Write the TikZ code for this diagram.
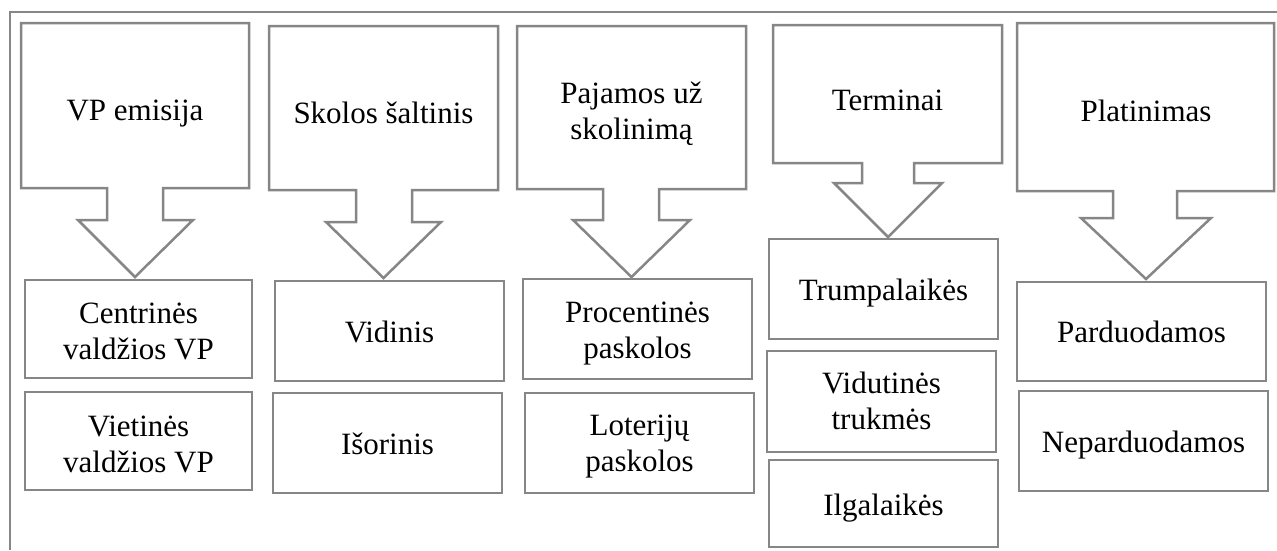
\documentclass[tikz,border=0pt]{standalone}
\usepackage{fontspec}
\setmainfont{Liberation Serif}
\definecolor{lg}{HTML}{868686}
\tikzset{
  x=1pt, y=-1pt,
  ln/.style={draw=lg, line width=2.5pt, line join=miter},
  txt/.style={font=\fontsize{31}{36}\selectfont, align=center, inner sep=0pt},
  box/.style={ln, rectangle, inner sep=0pt, minimum width=#1},
  box/.default={229pt},
}
\begin{document}
\begin{tikzpicture}
\useasboundingbox (0,0) rectangle (1277,550);
% outer frame (only top and left edges visible)
\draw[draw=lg, line width=2.5pt] (1277,12) -- (10,12) -- (10,550);

% callouts
\draw[ln] (21,23) -- (249,23) -- (249,188) -- (163,188) -- (163,220) -- (193,220) -- (135,277) -- (78,220) -- (107,220) -- (107,188) -- (21,188) -- cycle;
\draw[ln] (269,26) -- (498,26) -- (498,190) -- (412,190) -- (412,222) -- (441,222) -- (383.5,278) -- (326,222) -- (356,222) -- (356,190) -- (269,190) -- cycle;
\draw[ln] (517,26) -- (746,26) -- (746,189) -- (659,189) -- (659,220) -- (690,220) -- (631.5,277) -- (573,220) -- (603,220) -- (603,189) -- (517,189) -- cycle;
\draw[ln] (773,25) -- (1002,25) -- (1002,163) -- (914,163) -- (914,183) -- (942,183) -- (888,237) -- (834,183) -- (862,183) -- (862,163) -- (773,163) -- cycle;
\draw[ln] (1017,23) -- (1274,23) -- (1274,191) -- (1177,191) -- (1177,218) -- (1211,218) -- (1146,279) -- (1081,218) -- (1113,218) -- (1113,191) -- (1017,191) -- cycle;

\node[txt] (h1) at (135,112.8) {\strut VP emisija};
\node[txt] (h2) at (383.5,116.3) {\strut Skolos šaltinis};
\node[txt] (h3) at (631.5,113.8) {\strut Pajamos už\\\strut skolinimą};
\node[txt] (h4) at (887.5,102.8) {\strut Terminai};
\node[txt] (h5) at (1146,114.5) {\strut Platinimas};

% child boxes
\node[box=227pt, minimum height=98pt] (c1a) at (138.5,329) {};
\node[box=227pt, minimum height=98pt] (c1b) at (138.5,441) {};
\node[box, minimum height=100pt] (c2a) at (389.5,331) {};
\node[box, minimum height=100pt] (c2b) at (387.5,443) {};
\node[box, minimum height=100pt] (c3a) at (637.5,329) {};
\node[box, minimum height=100pt] (c3b) at (639.5,443) {};
\node[box, minimum height=100pt] (c4a) at (883.5,289) {};
\node[box, minimum height=101pt] (c4b) at (881.5,401.5) {};
\node[box, minimum height=87pt] (c4c) at (883.5,503.5) {};
\node[box=249pt, minimum height=99pt] (c5a) at (1141.5,331.5) {};
\node[box=249pt, minimum height=100pt] (c5b) at (1143.5,441) {};

% child labels
\node[txt] (t1a) at (c1a.center |- 0,334.1) {\strut Centrinės\\\strut valdžios VP};
\node[txt] (t1b) at (c1b.center |- 0,447) {\strut Vietinės\\\strut valdžios VP};
\node[txt] (t2a) at (c2a.center |- 0,335.5) {\strut Vidinis};
\node[txt] (t2b) at (c2b.center |- 0,447.1) {\strut Išorinis};
\node[txt] (t3a) at (c3a.center |- 0,332.8) {\strut Procentinės\\\strut paskolos};
\node[txt] (t3b) at (c3b.center |- 0,446.5) {\strut Loterijų\\\strut paskolos};
\node[txt] (t4a) at (c4a.center |- 0,293.5) {\strut Trumpalaikės};
\node[txt] (t4b) at (c4b.center |- 0,404.5) {\strut Vidutinės\\\strut trukmės};
\node[txt] (t4c) at (c4c.center |- 0,507.8) {\strut Ilgalaikės};
\node[txt] (t5a) at (c5a.center |- 0,335.5) {\strut Parduodamos};
\node[txt] (t5b) at (c5b.center |- 0,445.5) {\strut Neparduodamos};
\end{tikzpicture}
\end{document}
